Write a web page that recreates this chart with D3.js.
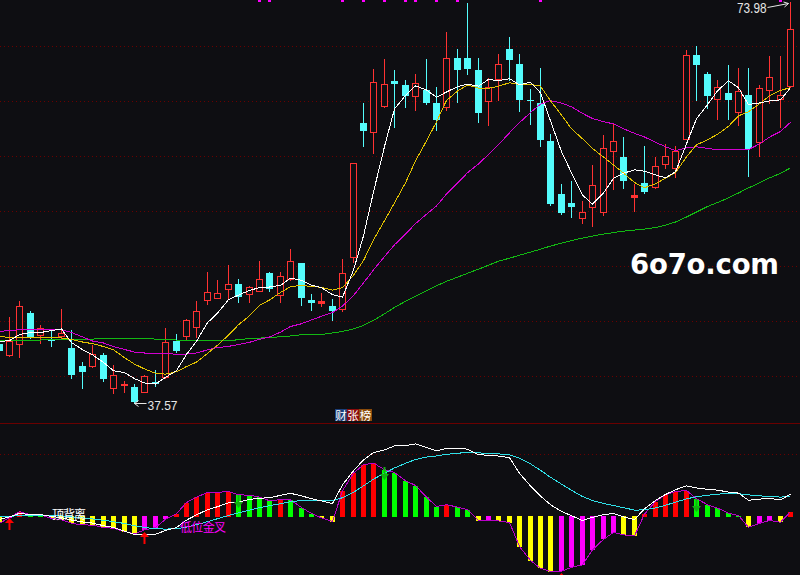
<!DOCTYPE html>
<html><head><meta charset="utf-8">
<script src="https://cdn.jsdelivr.net/npm/d3@7/dist/d3.min.js"></script>
<style>html,body{margin:0;padding:0;background:#0e0e12;}svg{display:block}</style>
</head><body>
<svg id="c" width="800" height="575"></svg>
<script>
// ---- data (one entry per trading day, oldest first) ----
const openP = [42.93,41.92,42.89,45.72,43.75,43.32,43.62,42.52,40.95,40.88,41.95,38.91,39.17,39.03,38.55,39.42,39.88,43.16,43.62,44.44,46.94,47.09,47.91,48.40,47.49,47.76,49.34,47.36,48.79,50.28,46.88,46.67,46.39,46.05,50.83,63.00,62.18,64.52,66.86,66.50,65.47,66.04,64.85,64.43,68.87,68.87,67.86,65.01,67.02,69.69,68.32,65.11,64.85,61.32,56.55,55.73,54.33,55.34,54.93,60.50,59.93,56.30,57.55,57.16,59.26,58.95,61.54,69.14,67.50,65.19,65.74,64.00,65.58,61.23,65.98,65.19,66.34];
const highP = [43.13,45.35,46.79,45.87,44.62,44.29,46.05,44.14,41.25,42.83,42.13,41.04,39.51,39.28,40.12,40.58,44.39,43.84,45.14,46.79,49.43,48.70,50.07,48.79,48.15,50.44,49.43,49.43,51.53,50.30,47.49,47.58,47.03,50.68,59.35,64.83,67.93,68.84,67.86,66.95,67.41,68.84,66.29,71.31,69.75,73.95,68.93,67.11,69.23,70.85,69.23,66.13,67.96,62.02,57.46,57.74,55.91,59.20,61.93,62.91,61.72,57.46,60.93,59.95,61.08,60.93,69.63,69.99,67.62,66.89,68.23,68.02,68.02,66.50,69.08,69.08,73.98];
const lowP = [42.13,41.86,41.70,43.41,42.98,42.77,43.38,39.79,38.87,40.85,39.58,38.42,38.51,37.57,38.53,39.12,39.85,42.16,43.38,43.59,46.57,47.06,47.00,46.72,46.72,47.70,47.73,46.72,48.75,46.45,46.03,46.33,45.12,45.90,50.37,60.87,60.26,64.49,62.60,64.43,64.15,64.76,62.33,64.15,64.88,67.44,63.06,62.78,65.07,66.95,64.06,62.94,60.87,55.55,54.72,54.48,53.88,53.66,54.63,56.98,57.07,55.03,56.61,57.07,58.95,58.13,61.52,65.13,64.37,63.37,63.39,62.85,58.19,60.04,64.83,62.60,66.31];
const closeP = [42.31,43.16,46.33,43.59,44.39,43.18,43.93,40.12,40.40,41.98,39.76,40.10,39.30,37.66,40.00,39.28,43.13,42.31,45.12,45.94,47.67,47.58,48.40,47.18,48.13,48.86,47.88,49.13,50.50,47.06,46.67,46.81,45.90,49.40,59.35,62.24,66.74,66.56,66.52,65.43,66.65,64.85,63.24,68.93,67.80,67.89,63.88,66.29,68.39,68.71,65.07,65.04,61.48,55.64,54.79,55.39,54.93,57.34,60.72,61.39,57.76,56.46,56.76,59.08,59.99,60.50,69.14,68.26,65.43,66.29,65.07,65.95,60.63,66.19,67.20,65.52,71.51];

const ma5 = [43.13,43.22,43.77,43.95,43.95,44.13,44.28,43.04,42.40,41.92,41.24,40.47,40.31,39.76,39.37,39.27,39.88,40.48,41.97,43.16,44.84,45.72,46.94,47.35,47.79,48.03,48.09,48.24,48.90,48.69,48.25,48.03,47.39,47.17,49.63,52.74,56.73,60.86,64.28,65.50,66.38,66.00,65.34,65.82,66.30,66.54,66.35,66.96,66.85,67.03,66.47,66.70,65.74,63.19,60.40,58.47,56.45,55.62,56.64,57.96,58.43,58.74,58.62,58.29,58.01,58.56,61.10,63.39,64.66,65.92,66.84,66.20,64.67,64.83,65.01,65.10,66.21];
const ma10 = [43.59,43.50,43.46,43.46,43.46,43.46,43.46,43.32,43.09,42.94,42.68,42.38,41.67,41.08,40.64,40.25,40.17,40.39,40.86,41.26,42.05,42.80,43.71,44.66,45.47,46.43,46.91,47.59,48.13,48.24,48.14,48.06,47.81,48.03,49.16,50.49,52.38,54.12,55.73,57.56,59.56,61.37,63.10,65.05,65.90,66.46,66.18,66.15,66.34,66.66,66.51,66.52,66.35,65.02,63.72,62.47,61.57,60.68,59.91,59.18,58.45,57.59,57.12,57.46,57.98,58.49,59.92,61.01,61.48,61.97,62.70,63.65,64.03,64.75,65.47,65.97,66.21];
const ma20 = [44.05,44.14,44.20,44.20,44.20,44.20,44.19,43.96,43.55,43.18,43.00,42.68,42.41,42.18,42.09,42.06,42.02,41.99,41.99,42.10,42.37,42.59,42.69,42.87,43.06,43.34,43.54,43.99,44.50,44.75,45.10,45.43,45.76,46.35,47.32,48.46,49.64,50.86,51.93,52.90,53.85,54.71,55.46,56.54,57.53,58.48,59.28,60.14,61.03,62.11,63.03,63.95,64.72,65.04,64.81,64.47,63.87,63.41,63.12,62.92,62.48,62.06,61.73,61.24,60.85,60.48,60.74,60.84,60.69,60.57,60.57,60.62,60.58,61.10,61.72,62.23,63.06];
const ma60 = [43.23,43.23,43.23,43.23,43.27,43.32,43.32,43.32,43.36,43.36,43.38,43.38,43.38,43.38,43.38,43.36,43.32,43.27,43.23,43.23,43.23,43.23,43.23,43.29,43.41,43.44,43.53,43.55,43.64,43.75,43.75,43.77,43.91,44.05,44.28,44.60,45.05,45.65,46.24,46.79,47.24,47.74,48.20,48.61,48.98,49.34,49.71,50.07,50.44,50.71,50.98,51.26,51.53,51.81,52.08,52.31,52.54,52.72,52.90,53.04,53.17,53.27,53.36,53.49,53.72,54.00,54.45,54.91,55.41,55.77,56.19,56.64,57.10,57.55,58.01,58.42,58.92];

const dif = [-0.15,-0.02,0.16,0.09,0.10,0.00,-0.06,-0.18,-0.27,-0.33,-0.46,-0.55,-0.73,-0.90,-0.88,-0.89,-0.70,-0.55,-0.18,0.08,0.34,0.49,0.68,0.72,0.85,0.92,0.93,1.06,1.16,1.03,0.89,0.78,0.65,1.58,2.29,2.83,3.20,3.33,3.53,3.55,3.63,3.45,3.28,3.40,3.40,3.37,3.08,3.07,3.02,2.94,2.16,1.53,1.02,0.59,0.25,0.04,-0.20,-0.04,0.09,0.15,-0.02,-0.16,0.39,0.80,1.10,1.34,1.53,1.43,1.36,1.32,1.22,1.17,0.81,0.87,0.91,0.83,1.12];
const dea = [0.02,0.01,0.04,0.05,0.06,0.05,0.03,-0.02,-0.07,-0.12,-0.19,-0.26,-0.35,-0.46,-0.55,-0.61,-0.63,-0.61,-0.53,-0.41,-0.26,-0.11,0.05,0.18,0.32,0.44,0.54,0.64,0.74,0.80,0.82,0.81,0.78,0.94,1.21,1.53,1.87,2.16,2.43,2.66,2.85,2.97,3.03,3.11,3.16,3.21,3.18,3.16,3.13,3.09,2.91,2.63,2.31,1.96,1.62,1.31,1.00,0.80,0.65,0.55,0.44,0.32,0.33,0.43,0.56,0.72,0.88,0.99,1.06,1.12,1.14,1.14,1.08,1.03,1.01,0.97,1.00];
const macdHist = [-0.34,-0.05,0.24,0.09,0.08,-0.09,-0.17,-0.34,-0.42,-0.43,-0.55,-0.59,-0.75,-0.87,-0.67,-0.55,-0.14,0.14,0.70,0.97,1.20,1.21,1.25,1.08,1.07,0.97,0.79,0.84,0.83,0.45,0.15,-0.07,-0.25,1.29,2.17,2.59,2.67,2.34,2.20,1.79,1.55,0.97,0.50,0.59,0.47,0.34,-0.20,-0.19,-0.22,-0.30,-1.50,-2.20,-2.59,-2.75,-2.74,-2.54,-2.42,-1.67,-1.14,-0.80,-0.92,-0.97,0.12,0.75,1.09,1.25,1.30,0.89,0.59,0.42,0.17,0.05,-0.54,-0.34,-0.20,-0.29,0.24];

const priceTicks = [40,45,50,55,60,65,70];
const macdTicks = [3.12];
const topMarkDays = [25,26,33,35,37,39,40,42,44,52,75];
const upSignals = [{day:1,v:-0.09},{day:14,v:-0.76},{day:54,v:-2.84}];
const downSignals = [{day:23,v:1.07},{day:37,v:2.49},{day:67,v:0.88}];
const maxLabel = {day:76, price:73.98, text:"73.98"};
const minLabel = {day:13, price:37.57, text:"37.57"};

// ---- drawing ----
const W = 800, H = 575, BG = '#0e0e12';
const RED = '#ff3232', CYAN = '#54fcfc';
const svg = d3.select('#c');
svg.append('rect').attr('width', W).attr('height', H).attr('fill', BG);

const days = d3.range(openP.length);
const x = d3.scaleLinear().domain([0, days.length - 1]).range([-1.41, 790]);
const cx = k => Math.round(x(k)) + 0.5;
const y = d3.scaleLinear().domain([40, 70]).range([376, 46]);
const ym = d3.scaleLinear().domain([0, 1]).range([516.5, 496.5]);

// grid lines
const grid = svg.append('g').attr('shape-rendering', 'crispEdges');
grid.selectAll('line.p').data(priceTicks).join('line')
  .attr('x1', 0).attr('x2', W)
  .attr('y1', d => Math.round(y(d)) + 0.5).attr('y2', d => Math.round(y(d)) + 0.5)
  .attr('stroke', '#6a0000').attr('stroke-dasharray', '1,3');
grid.selectAll('line.m').data(macdTicks).join('line')
  .attr('x1', 0).attr('x2', W)
  .attr('y1', d => Math.round(ym(d)) + 0.5).attr('y2', d => Math.round(ym(d)) + 0.5)
  .attr('stroke', '#6a0000').attr('stroke-dasharray', '1,3');
grid.append('line').attr('x1', 0).attr('x2', W).attr('y1', 423.5).attr('y2', 423.5)
  .attr('stroke', '#6a0000');

// top signal marks
svg.append('g').selectAll('rect').data(topMarkDays).join('rect')
  .attr('x', d => cx(d) - 1.5).attr('y', 0).attr('width', 3).attr('height', 2)
  .attr('fill', '#ff00ff');

// candles
const cg = svg.append('g').attr('shape-rendering', 'crispEdges');
days.forEach(k => {
  const up = closeP[k] >= openP[k];
  const c = up ? RED : CYAN;
  const xc = cx(k);
  const yo = y(openP[k]), yc = y(closeP[k]);
  const top = Math.round(Math.min(yo, yc)), bot = Math.round(Math.max(yo, yc));
  const yh = Math.round(y(highP[k])), yl = Math.round(y(lowP[k]));
  cg.append('line').attr('x1', xc).attr('x2', xc).attr('y1', yh).attr('y2', yl + 1)
    .attr('stroke', c);
  if (up && bot - top >= 3) {
    cg.append('rect').attr('x', xc - 3).attr('y', top + 0.5)
      .attr('width', 6).attr('height', bot - top)
      .attr('fill', BG).attr('stroke', c);
  } else {
    cg.append('rect').attr('x', xc - 3.5).attr('y', top)
      .attr('width', 7).attr('height', Math.max(bot - top, 1) + (up ? 1 : 0))
      .attr('fill', c);
  }
});

// moving averages
const maLine = d3.line().x((d, i) => cx(i)).y(d => y(d));
[[ma60, '#12b812'], [ma20, '#d000d0'], [ma10, '#e0c000'], [ma5, '#ffffff']].forEach(([arr, c]) => {
  svg.append('path').attr('d', maLine(arr)).attr('fill', 'none')
    .attr('stroke', c).attr('stroke-width', 1).attr('shape-rendering', 'crispEdges');
});

// MACD histogram
const mg = svg.append('g').attr('shape-rendering', 'crispEdges');
macdHist.forEach((v, k) => {
  const prev = k > 0 ? macdHist[k - 1] : v;
  let c;
  if (v >= 0) c = v >= prev ? '#ff0000' : '#00ff00';
  else c = v <= prev ? '#ffff00' : '#ff00ff';
  const yv = Math.round(ym(v));
  const y0 = v >= 0 ? 517 : 516;
  mg.append('rect').attr('x', cx(k) - 2.5).attr('width', 5)
    .attr('y', Math.min(yv, y0)).attr('height', Math.max(Math.abs(yv - y0), 1))
    .attr('fill', c);
});
const mLine = d3.line().x((d, i) => cx(i)).y(d => ym(d));
svg.append('path').attr('d', mLine(macdHist)).attr('fill', 'none')
  .attr('stroke', '#b800c8').attr('shape-rendering', 'crispEdges');
svg.append('path').attr('d', mLine(dea)).attr('fill', 'none')
  .attr('stroke', '#30e0e8').attr('shape-rendering', 'crispEdges');
svg.append('path').attr('d', mLine(dif)).attr('fill', 'none')
  .attr('stroke', '#ffffff').attr('shape-rendering', 'crispEdges');

// arrows
upSignals.forEach(s => {
  const xc = cx(s.day), t = Math.round(ym(s.v));
  svg.append('path').attr('d', `M${xc},${t} L${xc + 4.5},${t + 5} L${xc - 4.5},${t + 5} Z`).attr('fill', '#ff0000');
  svg.append('rect').attr('x', xc - 1).attr('y', t + 5).attr('width', 2).attr('height', 7).attr('fill', '#ff0000');
});
downSignals.forEach(s => {
  const xc = cx(s.day), t = Math.round(ym(s.v));
  svg.append('rect').attr('x', xc - 1).attr('y', t).attr('width', 2).attr('height', 8).attr('fill', '#10b010');
  svg.append('path').attr('d', `M${xc - 4.5},${t + 7} L${xc + 4.5},${t + 7} L${xc},${t + 13} Z`).attr('fill', '#10b010');
});

// MACD texts
svg.append('text').attr('x', 52).attr('y', 519).attr('font-family', 'Noto Sans CJK SC')
  .attr('font-size', 12).attr('fill', '#ffffff').attr('textLength', 34).text('顶背离');
svg.append('text').attr('x', 180).attr('y', 532).attr('font-family', 'Noto Sans CJK SC')
  .attr('font-size', 12).attr('fill', '#ff00ff').attr('textLength', 46).text('低位金叉');

// tag above the MACD panel
const tags = [{t:'财', bg:'#1c3f7a', w:12}, {t:'张', bg:'#8a0c0c', w:12}, {t:'榜', bg:'#8a4a0a', w:13}];
let tx = 335;
tags.forEach(tg => {
  svg.append('rect').attr('x', tx).attr('y', 409).attr('width', tg.w).attr('height', 12).attr('fill', tg.bg);
  svg.append('text').attr('x', tx + tg.w / 2).attr('y', 419.5).attr('text-anchor', 'middle')
    .attr('font-family', 'Noto Sans CJK SC').attr('font-size', 11.5).attr('fill', '#ffffff').text(tg.t);
  tx += tg.w;
});

// max / min labels
const lab = '#e6e6e6';
{
  const xm = cx(maxLabel.day), ymx = Math.round(y(maxLabel.price));
  svg.append('text').attr('x', 737).attr('y', 12.5).attr('font-family', 'Liberation Sans')
    .attr('font-size', 14).attr('fill', lab).attr('textLength', 29.5)
    .attr('lengthAdjust', 'spacingAndGlyphs').text(maxLabel.text);
  svg.append('path').attr('d', `M767.5,7.5 L${xm - 2},${ymx + 1.5} M${xm - 2},${ymx + 1.5} L${xm - 7},${ymx} M${xm - 2},${ymx + 1.5} L${xm - 6},${ymx + 5}`)
    .attr('stroke', lab).attr('fill', 'none');
}
{
  const xm = cx(minLabel.day), ymn = Math.round(y(minLabel.price)) + 0.5;
  svg.append('path').attr('d', `M${xm},${ymn} L${xm + 12},${ymn} M${xm},${ymn} L${xm + 4},${ymn - 3} M${xm},${ymn} L${xm + 4},${ymn + 3}`)
    .attr('stroke', lab).attr('fill', 'none');
  svg.append('text').attr('x', xm + 13).attr('y', 409.5).attr('font-family', 'Liberation Sans')
    .attr('font-size', 13).attr('fill', lab).attr('textLength', 30)
    .attr('lengthAdjust', 'spacingAndGlyphs').text(minLabel.text);
}

// watermark
svg.append('text').attr('x', 630).attr('y', 274).attr('font-family', 'DejaVu Sans')
  .attr('font-weight', 'bold').attr('font-size', 27.5).attr('fill', '#ffffff')
  .attr('textLength', 149).text('6o7o.com');
</script>
</body></html>
